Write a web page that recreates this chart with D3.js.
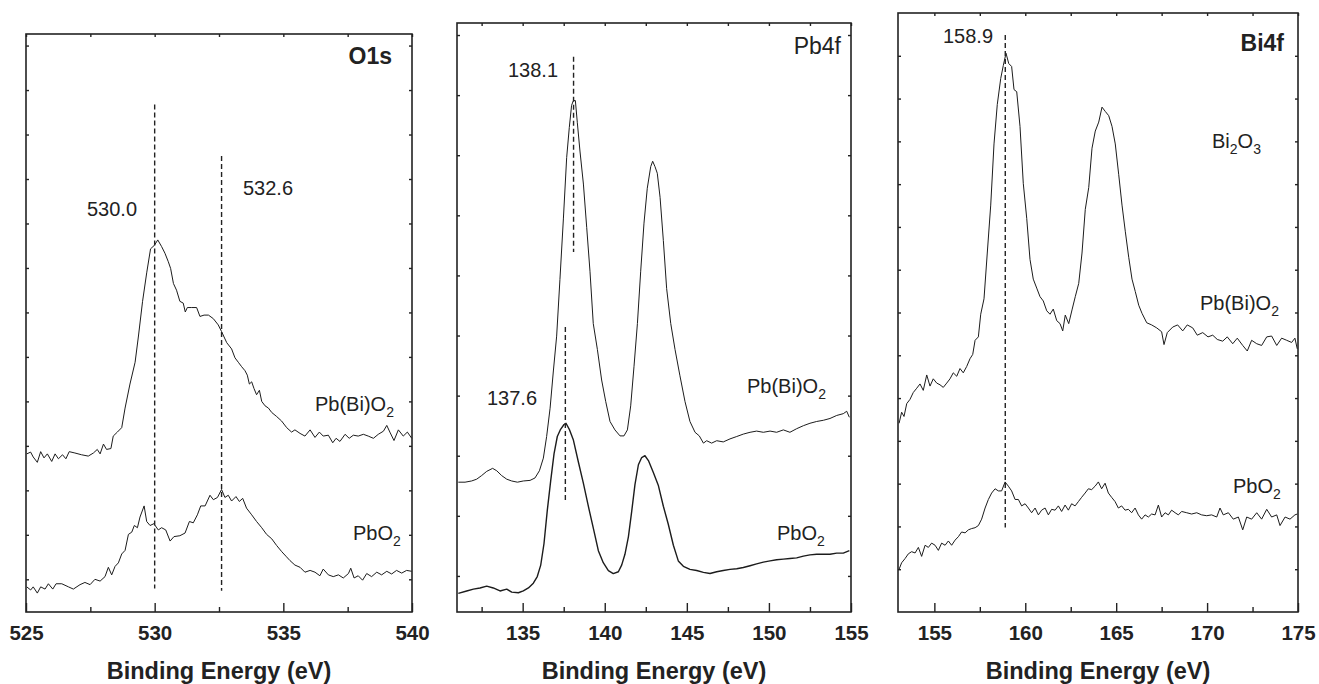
<!DOCTYPE html>
<html>
<head>
<meta charset="utf-8">
<script src="https://d3js.org/d3.v7.min.js"></script>
<style>
  body { margin: 0; background: #fff; }
  text { font-family: "Liberation Sans", Arial, Helvetica, sans-serif; fill: #222; }
</style>
</head>
<body>
<svg id="chart" width="1319" height="684"></svg>
<script>
// ---- data: [binding energy (eV), intensity (a.u.)] ----

// O1s
const o1sPbBiO2 = [[525.03,2.82],[525.18,2.86],[525.28,2.75],[525.44,2.63],[525.57,2.87],[525.70,2.73],[525.83,2.82],[526.00,2.65],[526.13,2.82],[526.26,2.71],[526.42,2.80],[526.55,2.71],[526.68,2.87],[526.90,2.84],[527.16,2.80],[527.42,2.77],[527.62,2.84],[527.77,2.92],[527.88,2.82],[528.01,3.04],[528.13,2.92],[528.30,2.94],[528.39,3.22],[528.55,3.31],[528.72,3.41],[528.85,3.85],[529.04,4.39],[529.24,4.88],[529.37,5.47],[529.53,6.25],[529.69,6.89],[529.84,7.43],[529.99,7.51],[530.12,7.63],[530.27,7.48],[530.40,7.33],[530.53,7.14],[530.62,6.99],[530.73,6.65],[530.85,6.50],[530.98,6.25],[531.11,6.21],[531.19,6.01],[531.27,6.11],[531.44,6.11],[531.63,6.11],[531.76,5.91],[531.92,5.94],[532.09,5.94],[532.28,5.86],[532.47,5.72],[532.60,5.57],[532.80,5.32],[532.99,5.18],[533.12,4.98],[533.25,4.88],[533.38,4.78],[533.51,4.69],[533.60,4.59],[533.68,4.39],[533.77,4.44],[533.86,4.29],[533.96,4.15],[534.07,4.25],[534.16,4.00],[534.29,3.90],[534.42,3.85],[534.55,3.75],[534.74,3.66],[534.93,3.56],[535.13,3.41],[535.32,3.31],[535.45,3.36],[535.65,3.28],[535.84,3.22],[536.04,3.36],[536.23,3.19],[536.40,3.31],[536.55,3.22],[536.75,3.24],[536.92,3.07],[537.05,3.17],[537.20,3.10],[537.40,3.26],[537.56,3.17],[537.72,3.24],[537.91,3.22],[538.11,3.26],[538.30,3.22],[538.50,3.17],[538.69,3.26],[538.89,3.33],[539.02,3.46],[539.14,3.31],[539.30,3.12],[539.47,3.36],[539.66,3.22],[539.82,3.31],[539.99,3.17]];

const o1sPbO2 = [[525.03,-0.17],[525.18,-0.24],[525.28,-0.17],[525.44,-0.31],[525.57,-0.17],[525.74,-0.22],[525.87,-0.10],[526.04,-0.22],[526.17,-0.10],[526.39,-0.10],[526.65,-0.17],[526.84,-0.22],[527.10,-0.12],[527.29,-0.07],[527.49,-0.12],[527.68,0.00],[527.88,-0.04],[528.07,0.06],[528.20,0.27],[528.33,0.10],[528.46,0.29],[528.59,0.37],[528.72,0.57],[528.85,0.65],[528.98,1.01],[529.11,1.06],[529.21,1.21],[529.33,1.16],[529.43,1.40],[529.59,1.65],[529.69,1.30],[529.82,1.21],[529.97,1.25],[530.14,1.11],[530.27,1.16],[530.43,1.11],[530.60,0.86],[530.75,0.96],[530.98,0.98],[531.18,1.04],[531.35,1.30],[531.50,1.27],[531.66,1.45],[531.79,1.65],[531.96,1.65],[532.15,1.89],[532.28,1.79],[532.44,1.84],[532.60,2.02],[532.73,1.84],[532.86,1.89],[532.99,1.76],[533.16,1.86],[533.29,1.75],[533.42,1.82],[533.57,1.60],[533.77,1.45],[533.96,1.30],[534.16,1.16],[534.35,1.01],[534.55,0.91],[534.74,0.76],[534.94,0.62],[535.10,0.52],[535.26,0.42],[535.45,0.32],[535.65,0.27],[535.84,0.16],[536.04,0.20],[536.23,0.16],[536.42,0.08],[536.55,0.23],[536.75,0.10],[536.94,0.06],[537.14,0.10],[537.33,0.03],[537.53,0.13],[537.62,0.25],[537.75,0.03],[537.91,0.08],[538.08,-0.02],[538.24,0.13],[538.43,0.06],[538.63,0.16],[538.82,0.10],[539.02,0.18],[539.21,0.12],[539.40,0.20],[539.60,0.14],[539.79,0.20],[539.99,0.18]];

// Pb4f
const pb4fPbBiO2 = [[131.08,1.56],[131.49,1.56],[131.89,1.58],[132.20,1.61],[132.50,1.67],[132.81,1.74],[133.17,1.79],[133.42,1.75],[133.72,1.67],[134.03,1.61],[134.33,1.58],[134.68,1.56],[135.04,1.58],[135.45,1.59],[135.75,1.63],[136.02,1.75],[136.26,1.96],[136.46,2.32],[136.67,2.79],[136.87,3.41],[137.07,3.99],[137.27,4.93],[137.48,5.94],[137.68,6.96],[137.84,7.46],[137.98,7.83],[138.09,7.91],[138.21,7.91],[138.33,7.54],[138.49,7.07],[138.70,6.52],[138.90,5.80],[139.10,5.07],[139.30,4.20],[139.55,3.77],[139.81,3.26],[140.06,2.90],[140.32,2.57],[140.62,2.43],[140.93,2.33],[141.17,2.33],[141.38,2.43],[141.58,2.83],[141.78,3.48],[141.99,4.20],[142.19,5.07],[142.39,5.87],[142.59,6.45],[142.80,6.81],[142.92,6.90],[143.06,6.81],[143.20,6.70],[143.37,6.30],[143.57,5.58],[143.77,4.78],[144.02,4.20],[144.28,3.77],[144.58,3.33],[144.89,2.90],[145.19,2.57],[145.50,2.39],[145.76,2.33],[146.01,2.21],[146.21,2.25],[146.51,2.21],[146.82,2.25],[147.22,2.23],[147.63,2.28],[148.04,2.32],[148.44,2.36],[148.85,2.39],[149.25,2.41],[149.66,2.39],[150.07,2.41],[150.47,2.39],[150.88,2.43],[151.28,2.39],[151.69,2.45],[152.10,2.50],[152.50,2.54],[152.91,2.57],[153.32,2.59],[153.72,2.62],[154.13,2.67],[154.53,2.70],[154.74,2.74],[154.90,2.64]];

const pb4fPbO2 = [[131.08,-0.29],[131.59,-0.25],[132.00,-0.22],[132.40,-0.20],[132.81,-0.17],[133.21,-0.20],[133.62,-0.25],[134.03,-0.22],[134.33,-0.27],[134.74,-0.28],[135.04,-0.25],[135.35,-0.20],[135.65,-0.12],[135.89,-0.01],[136.10,0.18],[136.30,0.54],[136.50,1.09],[136.71,1.59],[136.91,2.03],[137.11,2.32],[137.31,2.44],[137.52,2.52],[137.64,2.54],[137.84,2.44],[138.09,2.26],[138.39,1.90],[138.70,1.54],[139.00,1.16],[139.30,0.80],[139.61,0.42],[139.91,0.22],[140.22,0.09],[140.52,0.04],[140.83,0.07],[141.03,0.18],[141.23,0.36],[141.44,0.65],[141.64,1.07],[141.84,1.52],[142.05,1.85],[142.25,1.97],[142.45,2.00],[142.66,1.92],[142.96,1.72],[143.26,1.51],[143.57,1.16],[143.87,0.86],[144.18,0.51],[144.48,0.25],[144.79,0.16],[145.19,0.11],[145.60,0.09],[146.01,0.06],[146.41,0.04],[146.82,0.07],[147.22,0.09],[147.63,0.11],[148.04,0.12],[148.44,0.14],[148.85,0.17],[149.25,0.20],[149.66,0.23],[150.07,0.25],[150.47,0.27],[150.88,0.28],[151.28,0.29],[151.69,0.30],[152.10,0.33],[152.50,0.35],[152.91,0.36],[153.32,0.36],[153.72,0.36],[154.13,0.38],[154.53,0.38],[154.90,0.42]];

// Bi4f
const bi4fPbBiO2 = [[153.06,4.41],[153.20,4.67],[153.33,4.57],[153.48,4.87],[153.66,4.97],[153.84,5.13],[154.03,5.23],[154.21,5.33],[154.39,5.18],[154.58,5.54],[154.76,5.28],[154.94,5.45],[155.13,5.35],[155.31,5.31],[155.49,5.25],[155.68,5.35],[155.86,5.45],[156.04,5.59],[156.23,5.51],[156.41,5.69],[156.59,5.59],[156.78,5.74],[156.96,5.92],[157.11,6.02],[157.24,6.35],[157.42,6.43],[157.55,6.96],[157.73,7.32],[157.91,8.39],[158.10,9.51],[158.28,10.94],[158.46,11.86],[158.65,12.47],[158.79,12.77],[158.94,13.06],[159.09,12.82],[159.25,12.75],[159.38,12.21],[159.53,12.16],[159.71,11.35],[159.89,10.02],[160.08,9.20],[160.26,8.24],[160.44,7.78],[160.63,7.57],[160.81,7.37],[160.99,7.27],[161.18,7.04],[161.36,6.96],[161.54,7.08],[161.73,6.81],[161.91,6.74],[162.06,6.57],[162.20,6.94],[162.39,6.74],[162.57,7.06],[162.75,7.37],[162.94,7.68],[163.12,8.39],[163.30,9.41],[163.49,9.92],[163.67,10.84],[163.85,11.24],[164.04,11.45],[164.22,11.80],[164.40,11.70],[164.59,11.60],[164.77,11.35],[164.95,10.94],[165.14,10.22],[165.32,9.51],[165.50,8.90],[165.69,8.29],[165.87,7.78],[166.05,7.49],[166.24,7.17],[166.42,6.98],[166.68,6.76],[166.95,6.71],[167.23,6.64],[167.50,6.55],[167.63,6.25],[167.81,6.53],[168.11,6.66],[168.38,6.71],[168.66,6.57],[168.91,6.71],[169.21,6.64],[169.46,6.47],[169.76,6.53],[170.05,6.43],[170.31,6.47],[170.56,6.37],[170.86,6.33],[171.11,6.43],[171.41,6.27],[171.66,6.40],[171.96,6.23],[172.21,6.10],[172.45,6.35],[172.73,6.27],[173.00,6.23],[173.28,6.43],[173.55,6.45],[173.83,6.23],[174.10,6.40],[174.38,6.35],[174.65,6.30],[174.83,6.40],[174.96,6.15]];

const bi4fPbO2 = [[153.06,1.00],[153.20,1.15],[153.39,1.25],[153.57,1.36],[153.75,1.41],[153.94,1.38],[154.12,1.51],[154.30,1.30],[154.49,1.56],[154.67,1.51],[154.85,1.61],[155.04,1.56],[155.22,1.44],[155.40,1.61],[155.59,1.56],[155.77,1.66],[155.95,1.56],[156.14,1.68],[156.32,1.76],[156.50,1.87],[156.69,1.85],[156.87,1.92],[157.05,1.95],[157.24,1.97],[157.42,2.02],[157.60,2.17],[157.79,2.43],[157.97,2.63],[158.15,2.78],[158.34,2.88],[158.52,2.83],[158.70,2.83],[158.89,3.04],[159.07,2.94],[159.25,2.83],[159.44,2.63],[159.62,2.63],[159.80,2.48],[159.99,2.53],[160.17,2.43],[160.35,2.32],[160.54,2.43],[160.72,2.27],[160.90,2.38],[161.09,2.43],[161.27,2.27],[161.45,2.40],[161.64,2.38],[161.82,2.48],[162.00,2.35],[162.19,2.50],[162.37,2.38],[162.55,2.53],[162.74,2.48],[162.92,2.58],[163.10,2.68],[163.29,2.78],[163.47,2.88],[163.65,2.86],[163.84,2.94],[164.02,3.04],[164.20,2.88],[164.39,3.01],[164.57,2.78],[164.75,2.68],[164.94,2.58],[165.12,2.43],[165.30,2.48],[165.49,2.38],[165.67,2.40],[165.85,2.32],[166.04,2.43],[166.22,2.27],[166.40,2.17],[166.59,2.27],[166.77,2.22],[166.95,2.29],[167.14,2.27],[167.32,2.50],[167.50,2.22],[167.69,2.32],[167.87,2.27],[168.05,2.38],[168.24,2.32],[168.42,2.27],[168.60,2.35],[168.88,2.32],[169.15,2.29],[169.43,2.32],[169.70,2.27],[169.98,2.25],[170.25,2.27],[170.53,2.22],[170.71,2.43],[170.89,2.27],[171.17,2.32],[171.44,2.17],[171.72,2.22],[171.96,1.92],[172.18,2.22],[172.45,2.17],[172.73,2.32],[173.00,2.17],[173.28,2.40],[173.55,2.22],[173.83,2.27],[174.01,2.02],[174.29,2.22],[174.56,2.17],[174.83,2.27],[174.96,2.29]];

// peak positions (eV)
const o1sPeaks = [530.0, 532.6];
const pb4fPeaks = [138.1, 137.6];
const bi4fPeaks = [158.9];

// axis ranges (eV)
const o1sRange = [525, 540];
const pb4fRange = [131, 155];
const bi4fRange = [153, 175];

// ---- layout ----
const svg = d3.select("#chart");
const bottom = 612;
const fmtPeak = d3.format(".1f");

const panels = [
  { left: 26, right: 412, top: 34, xDomain: o1sRange, yDomain: [-0.735, 12.26], yTicks: d3.range(0, 13),
    series: [{ data: o1sPbBiO2, w: 1 }, { data: o1sPbO2, w: 1 }],
    peaks: o1sPeaks, peakSpan: [[104.6, 588.5], [156, 590.7]], peakLabel: [[87, 216], [243, 195]],
    title: { text: "O1s", bold: true, size: 23, x: 392, y: 64 },
    labels: [{ parts: [["Pb(Bi)O"], ["2", 1]], x: 315, y: 411 }, { parts: [["PbO"], ["2", 1]], x: 353, y: 540 }] },
  { left: 457, right: 851, top: 23, xDomain: pb4fRange, yDomain: [-0.60, 9.20], yTicks: d3.range(0, 10),
    series: [{ data: pb4fPbBiO2, w: 1 }, { data: pb4fPbO2, w: 1.4 }],
    peaks: pb4fPeaks, peakSpan: [[56.7, 252], [327, 500]], peakLabel: [[508, 77], [487, 405]],
    title: { text: "Pb4f", bold: false, size: 23, x: 841, y: 54 },
    labels: [{ parts: [["Pb(Bi)O"], ["2", 1]], x: 747, y: 393 }, { parts: [["PbO"], ["2", 1]], x: 777, y: 540 }] },
  { left: 898, right: 1298, top: 13, xDomain: bi4fRange, yDomain: [0, 14], yTicks: d3.range(1, 14),
    series: [{ data: bi4fPbBiO2, w: 1 }, { data: bi4fPbO2, w: 1 }],
    peaks: bi4fPeaks, peakSpan: [[35, 527.5]], peakLabel: [[943, 43]],
    title: { text: "Bi4f", bold: true, size: 23, x: 1284, y: 51 },
    labels: [{ parts: [["Bi"], ["2", 1], ["O"], ["3", 1]], x: 1212, y: 148 },
             { parts: [["Pb(Bi)O"], ["2", 1]], x: 1200, y: 310 }, { parts: [["PbO"], ["2", 1]], x: 1233, y: 493 }] }
];

function styleAxis(g) {
  g.select(".domain").remove();
  g.selectAll("line").attr("stroke", "#222").attr("stroke-width", 1.4);
}

panels.forEach(p => {
  const x = d3.scaleLinear().domain(p.xDomain).range([p.left, p.right]);
  const y = d3.scaleLinear().domain(p.yDomain).range([bottom, p.top]);
  const g = svg.append("g");

  const majors = d3.range(Math.ceil(p.xDomain[0] / 5) * 5, p.xDomain[1] + 0.01, 5);
  const allTicks = d3.range(Math.ceil(p.xDomain[0] / 2.5) * 2.5, p.xDomain[1] + 0.01, 2.5);
  const minors = allTicks.filter(v => v % 5 !== 0);

  // spectra
  const line = d3.line().x(d => x(d[0])).y(d => y(d[1]));
  p.series.forEach(s => {
    g.append("path").datum(s.data)
      .attr("d", line)
      .attr("fill", "none")
      .attr("stroke", "#1c1c1c")
      .attr("stroke-width", s.w)
      .attr("stroke-linejoin", "round");
  });

  // peak markers
  p.peaks.forEach((pk, i) => {
    g.append("line")
      .attr("x1", x(pk)).attr("x2", x(pk))
      .attr("y1", p.peakSpan[i][0]).attr("y2", p.peakSpan[i][1])
      .attr("stroke", "#222").attr("stroke-width", 1.4)
      .attr("stroke-dasharray", "5,3");
    g.append("text")
      .attr("x", p.peakLabel[i][0]).attr("y", p.peakLabel[i][1])
      .style("font-size", "20px")
      .text(fmtPeak(pk));
  });

  // axes
  g.append("g").attr("transform", `translate(0,${bottom})`)
    .call(d3.axisBottom(x).tickValues(majors).tickSize(-9).tickPadding(13).tickFormat(d3.format("d")))
    .call(styleAxis)
    .call(a => a.selectAll("text")
      .style("font-family", '"Liberation Sans", Arial, sans-serif')
      .style("font-size", "20.5px").style("font-weight", "bold").attr("fill", "#222"));
  g.append("g").attr("transform", `translate(0,${bottom})`)
    .call(d3.axisBottom(x).tickValues(minors).tickSize(-5).tickFormat(""))
    .call(styleAxis);
  g.append("g").attr("transform", `translate(0,${p.top})`)
    .call(d3.axisTop(x).tickValues(allTicks).tickSize(-3).tickFormat(""))
    .call(styleAxis);
  g.append("g").attr("transform", `translate(${p.left},0)`)
    .call(d3.axisLeft(y).tickValues(p.yTicks).tickSize(-3).tickFormat(""))
    .call(styleAxis);
  g.append("g").attr("transform", `translate(${p.right},0)`)
    .call(d3.axisRight(y).tickValues(p.yTicks).tickSize(-3).tickFormat(""))
    .call(styleAxis);

  // frame
  g.append("rect")
    .attr("x", p.left).attr("y", p.top)
    .attr("width", p.right - p.left).attr("height", bottom - p.top)
    .attr("fill", "none").attr("stroke", "#222").attr("stroke-width", 1.6);

  // panel title
  g.append("text")
    .attr("x", p.title.x).attr("y", p.title.y)
    .attr("text-anchor", "end")
    .style("font-size", p.title.size + "px")
    .style("font-weight", p.title.bold ? "bold" : "normal")
    .text(p.title.text);

  // sample labels with subscripts
  p.labels.forEach(l => {
    const t = g.append("text").attr("x", l.x).attr("y", l.y).style("font-size", "20px");
    l.parts.forEach(part => {
      if (part[1]) {
        t.append("tspan").attr("dy", 6).style("font-size", "14px").text(part[0]);
      } else {
        const ts = t.append("tspan").text(part[0]);
        if (t.selectAll("tspan").size() > 1) ts.attr("dy", -6);
      }
    });
  });

  // axis title
  g.append("text")
    .attr("x", (p.left + p.right) / 2).attr("y", 679)
    .attr("text-anchor", "middle")
    .style("font-size", "23.5px").style("font-weight", "bold")
    .text("Binding Energy (eV)");
});
</script>
</body>
</html>
